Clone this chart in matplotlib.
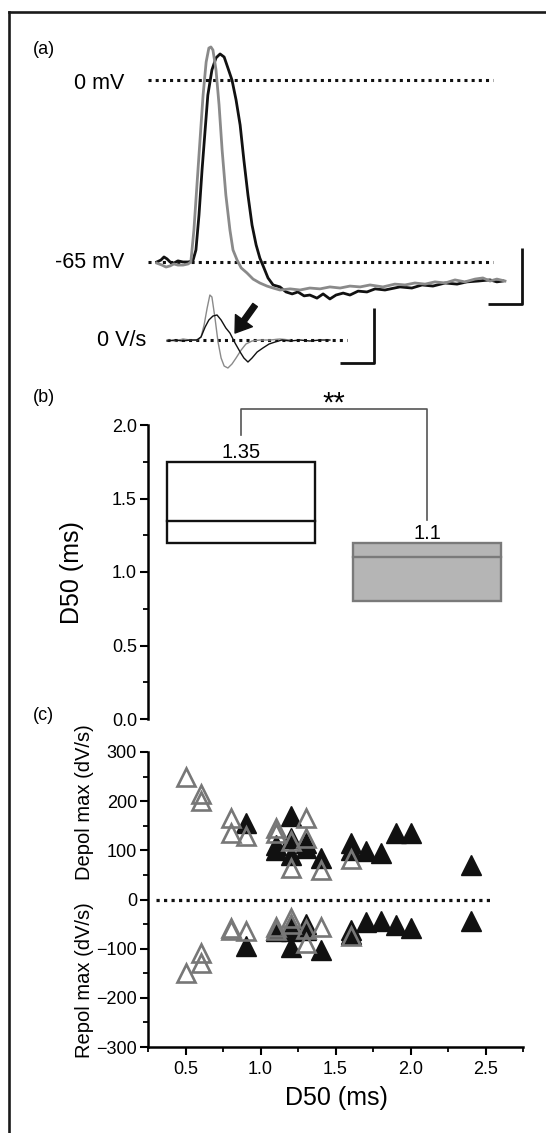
import matplotlib
matplotlib.use('Agg')
import matplotlib.pyplot as plt
from matplotlib.lines import Line2D
import numpy as np

plt.rcParams['font.family'] = ['Liberation Sans', 'DejaVu Sans']

# ---------------- data ----------------
# (a) membrane potential traces (time in ms, Vm in mV)
gray_t = [0.26, 0.41, 0.53, 0.65, 0.76, 0.88, 1.03, 1.18, 1.26, 1.35, 1.44, 1.53, 1.62, 1.71,
          1.79, 1.85, 1.91, 2.00, 2.09, 2.18, 2.29, 2.41, 2.50, 2.62, 2.74, 2.91, 3.09, 3.29,
          3.50, 3.68, 3.88, 4.18, 4.47, 4.76, 5.06, 5.35, 5.65, 5.94, 6.24, 6.53, 6.91, 7.26,
          7.56, 7.85, 8.15, 8.44, 8.74, 9.03, 9.32, 9.62, 9.85, 10.06, 10.26, 10.50]
gray_v = [-65.4, -66.1, -66.8, -66.4, -65.7, -66.1, -66.1, -65.7, -65.0, -53.6, -37.5, -21.4,
          -5.4, 6.4, 11.4, 11.8, 10.7, 3.6, -8.9, -25.0, -41.1, -53.6, -60.7, -64.3, -67.1,
          -68.9, -71.1, -72.5, -73.6, -74.3, -75.0, -74.6, -75.0, -74.3, -74.6, -73.9, -74.3,
          -73.6, -73.9, -73.2, -73.9, -72.9, -73.2, -72.5, -72.9, -72.1, -72.5, -71.4, -72.1,
          -71.1, -70.7, -71.8, -71.1, -71.8]
black_t = [0.26, 0.38, 0.47, 0.56, 0.65, 0.76, 0.88, 1.03, 1.18, 1.32, 1.41, 1.50, 1.59, 1.68,
           1.76, 1.88, 2.00, 2.12, 2.24, 2.35, 2.47, 2.59, 2.71, 2.82, 2.94, 3.06, 3.18, 3.29,
           3.41, 3.53, 3.68, 3.88, 4.06, 4.24, 4.41, 4.59, 4.76, 4.97, 5.15, 5.35, 5.53, 5.74,
           5.94, 6.18, 6.44, 6.68, 6.97, 7.41, 7.76, 8.06, 8.38, 8.74, 9.09, 9.38, 9.71, 10.06,
           10.26, 10.44]
black_v = [-65.0, -64.3, -63.2, -63.9, -65.0, -65.4, -64.6, -65.0, -65.0, -64.6, -60.7, -48.2,
           -32.1, -17.9, -5.4, 3.6, 7.9, 9.3, 8.2, 4.3, 0.0, -7.1, -16.1, -28.6, -41.1, -51.8,
           -58.9, -63.6, -67.1, -70.7, -73.2, -73.9, -75.7, -76.4, -75.7, -77.1, -76.8, -77.9,
           -76.4, -78.2, -76.8, -76.1, -76.8, -75.4, -75.7, -74.6, -75.0, -73.9, -74.3, -73.2,
           -73.6, -72.5, -72.9, -72.1, -71.8, -71.4, -72.1, -71.8]

# (a) dV/dt traces (time in ms, V/s)
gray_dt = [0.56, 0.79, 1.03, 1.24, 1.44, 1.56, 1.65, 1.74, 1.82, 1.88, 1.97, 2.06, 2.15, 2.24,
           2.35, 2.47, 2.59, 2.74, 2.88, 3.06, 3.29, 3.59, 3.88, 4.18]
gray_dv = [0, -1.8, 1.8, 0, 0, 5.5, 27.3, 58.2, 81.8, 78.2, 40.0, -3.6, -32.7, -47.3, -50.9,
           -43.6, -32.7, -18.2, -7.3, -1.8, 0, 0, 1.8, 0]
black_dt = [0.56, 0.79, 1.03, 1.24, 1.44, 1.56, 1.68, 1.79, 1.91, 2.03, 2.15, 2.29, 2.41, 2.56,
            2.71, 2.82, 2.94, 3.06, 3.21, 3.38, 3.56, 3.74, 3.94, 4.18, 4.47, 4.76, 5.06, 5.35]
black_dv = [-1.8, 0, -1.8, 0, 0, 5.5, 23.6, 36.4, 43.6, 45.5, 36.4, 21.8, 12.7, -5.5, -21.8,
            -32.7, -40.0, -32.7, -21.8, -14.5, -7.3, -3.6, 0, -1.8, 0, -1.8, 0, 0]

vm_ref_levels = [0, -65]
vm_ref_labels = ['0 mV', '-65 mV']
vm_ref_span = [0.0, 10.15]
dv_ref_span = [0.56, 5.84]

# (b) D50 boxes
box_pos = [1, 2]
box_q1 = [1.2, 0.8]
box_median = [1.35, 1.1]
box_q3 = [1.75, 1.2]
box_labels = ['1.35', '1.1']
box_face = ['white', '#b5b5b5']
box_edge = ['#111111', '#7a7a7a']

# (c) max rates vs D50
open_x = [0.5, 0.6, 0.6, 0.8, 0.8, 0.9, 1.1, 1.1, 1.2, 1.2, 1.3, 1.3, 1.4, 1.6]
depol_open_y = [250, 215, 200, 165, 135, 130, 145, 135, 120, 65, 165, 125, 60, 82]
repol_open_y = [-150, -108, -130, -58, -62, -65, -55, -62, -38, -50, -60, -88, -55, -75]
fill_x = [0.9, 1.1, 1.1, 1.2, 1.2, 1.2, 1.3, 1.3, 1.4, 1.6, 1.6, 1.7, 1.8, 1.9, 2.0, 2.4]
depol_fill_y = [155, 110, 100, 170, 125, 90, 115, 105, 85, 115, 100, 98, 95, 135, 135, 70]
repol_fill_y = [-95, -62, -65, -97, -65, -55, -50, -62, -102, -62, -70, -45, -44, -52, -57, -44]

# ---------------- figure ----------------
W, H = 546, 1133
fig = plt.figure(figsize=(W / 100, H / 100), dpi=100)
fig.patch.set_facecolor('white')


def fr(l, t, r, b):
    return [l / W, 1 - b / H, (r - l) / W, (b - t) / H]


GRAY = '#8a8a8a'
BLK = '#111111'
DOT = (0, (1, 1.35))

# frame
fig.add_artist(Line2D([9 / W, 1], [1 - 12 / H, 1 - 12 / H], color='#1a1a1a', lw=1.9,
                      transform=fig.transFigure))
fig.add_artist(Line2D([9 / W, 9 / W], [0, 1 - 12 / H], color='#1a1a1a', lw=1.9,
                      transform=fig.transFigure))

# panel labels
for lab, y in [('(a)', 50), ('(b)', 398), ('(c)', 715)]:
    fig.text(33 / W, 1 - y / H, lab, fontsize=13, ha='left', va='center')

# ---- (a) Vm ----
ax_a = fig.add_axes(fr(148, 25, 546, 315))
ax_a.set_xlim(0, 11.706)
ax_a.set_ylim(-83.93, 19.64)
ax_a.axis('off')
for lvl, lab in zip(vm_ref_levels, vm_ref_labels):
    ax_a.plot(vm_ref_span, [lvl, lvl], color=BLK, lw=2.2, linestyle=DOT, dash_capstyle='butt')
    ax_a.text(-0.7, lvl - (1.2 if lvl == 0 else 0.3), lab, fontsize=15.5, ha='right', va='center')
ax_a.plot(black_t, black_v, color=BLK, lw=2.0)
ax_a.plot(gray_t, gray_v, color=GRAY, lw=2.0)
# scale bar: 20 mV / 1 ms
ax_a.plot([10.0, 11.0, 11.0], [-80, -80, -60], color=BLK, lw=2.0, solid_capstyle='butt',
          clip_on=False)

# ---- (a) dV/dt ----
ax_d = fig.add_axes(fr(148, 280, 546, 380))
ax_d.set_xlim(0, 11.706)
ax_d.set_ylim(-72.7, 109.1)
ax_d.axis('off')
ax_d.patch.set_alpha(0)
ax_d.plot(dv_ref_span, [0, 0], color=BLK, lw=2.2, linestyle=DOT, dash_capstyle='butt')
ax_d.plot(gray_dt, gray_dv, color=GRAY, lw=1.0)
ax_d.plot(black_dt, black_dv, color=BLK, lw=1.0)
ax_d.text(-0.06, 0, '0 V/s', fontsize=15.5, ha='right', va='center')
ax_d.plot([5.65, 6.65, 6.65], [-42, -42, 58], color=BLK, lw=2.0, solid_capstyle='butt',
          clip_on=False)
ax_d.annotate('', xy=(2.56, 12.7), xytext=(3.15, 63.6),
              arrowprops=dict(facecolor=BLK, edgecolor=BLK, width=4, headwidth=15,
                              headlength=11, shrink=0))

# ---- (b) boxes ----
ax_b = fig.add_axes(fr(148, 425, 520, 719))
ax_b.set_xlim(0.5, 2.5)
ax_b.set_ylim(0, 2.0)
ax_b.patch.set_alpha(0)
for s in ['top', 'right', 'bottom']:
    ax_b.spines[s].set_visible(False)
ax_b.spines['left'].set_linewidth(1.8)
ax_b.set_xticks([])
ax_b.set_yticks(np.arange(0, 2.01, 0.5))
ax_b.set_yticks(np.arange(0, 2.01, 0.25), minor=True)
ax_b.set_yticklabels(['%.1f' % v for v in np.arange(0, 2.01, 0.5)])
ax_b.tick_params(axis='y', which='major', length=6, width=1.5, labelsize=13, pad=2)
ax_b.tick_params(axis='y', which='minor', length=3.5, width=1.3)
heights = [q3 - q1 for q1, q3 in zip(box_q1, box_q3)]
ax_b.bar(box_pos, heights, bottom=box_q1, width=0.8, color=box_face, edgecolor=box_edge,
         linewidth=1.7)
for p, m, ec, q3, lab in zip(box_pos, box_median, box_edge, box_q3, box_labels):
    ax_b.plot([p - 0.4, p + 0.4], [m, m], color=ec, lw=1.7)
    ax_b.text(p, q3 + 0.025, lab, fontsize=14.5, ha='center', va='baseline')
# significance bracket
ax_b.plot([1.0, 1.0, 2.0, 2.0], [1.93, 2.11, 2.11, 1.355], color='#555555', lw=1.2,
          clip_on=False)
ax_b.text(1.5, 2.09, '**', fontsize=21, ha='center', va='baseline')
fig.text(71.5 / W, 1 - 573 / H, 'D50 (ms)', fontsize=18, rotation=90, ha='center', va='center')

# ---- (c) scatter ----
ax_c = fig.add_axes(fr(148, 752, 523, 1047))
ax_c.set_xlim(0.25, 2.75)
ax_c.set_ylim(-300, 300)
ax_c.patch.set_alpha(0)
for s in ['top', 'right']:
    ax_c.spines[s].set_visible(False)
for s in ['left', 'bottom']:
    ax_c.spines[s].set_linewidth(1.8)
ax_c.set_xticks(np.arange(0.5, 2.51, 0.5))
ax_c.set_xticks(np.arange(0.25, 2.76, 0.25), minor=True)
ax_c.set_xticklabels(['%.1f' % v for v in np.arange(0.5, 2.51, 0.5)])
ax_c.set_yticks(np.arange(-300, 301, 100))
ax_c.set_yticks(np.arange(-300, 301, 50), minor=True)
ax_c.tick_params(which='major', length=6, width=1.5, labelsize=13)
ax_c.tick_params(which='minor', length=3.5, width=1.3)
ax_c.tick_params(axis='y', pad=2)
ax_c.tick_params(axis='x', pad=4)
ax_c.plot([0.3, 2.55], [0, 0], color=BLK, lw=2.3, linestyle=DOT, dash_capstyle='butt')
for ys in (depol_fill_y, repol_fill_y):
    ax_c.plot(fill_x, ys, linestyle='none', marker='^', ms=14.5, mfc=BLK, mec=BLK, mew=1.0)
for ys in (depol_open_y, repol_open_y):
    ax_c.plot(open_x, ys, linestyle='none', marker='^', ms=13.5, mfc='none', mec='#777777',
              mew=1.9)
fig.text(85 / W, 1 - 802 / H, 'Depol max (dV/s)', fontsize=14.5, rotation=90, ha='center',
         va='center')
fig.text(85 / W, 1 - 980 / H, 'Repol max (dV/s)', fontsize=14.5, rotation=90, ha='center',
         va='center')
fig.text(336 / W, 1 - 1098 / H, 'D50 (ms)', fontsize=18, ha='center', va='center')

fig.savefig('out.png', dpi=100, facecolor='white')
